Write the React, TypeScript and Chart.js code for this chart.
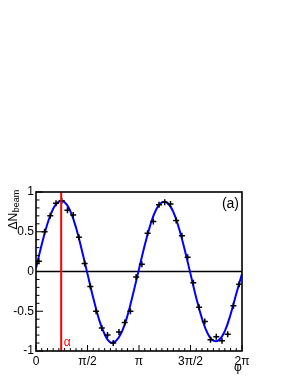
import React, { useEffect, useRef } from "react";
import { Chart, registerables } from "chart.js";

Chart.register(...registerables);

// Measured points (bin centres in degrees) and their values
const binCentersDeg = [
  5, 15, 25, 35, 45, 55, 65, 75, 85, 95, 105, 115, 125, 135, 145, 155, 165, 175,
  185, 195, 205, 215, 225, 235, 245, 255, 265, 275, 285, 295, 305, 315, 325, 335, 345, 355,
];
const measured = [
  0.13, 0.5, 0.7, 0.86, 0.89, 0.77, 0.71, 0.43, 0.1, -0.19, -0.5, -0.71, -0.8, -0.9, -0.76, -0.64, -0.5, -0.07,
  0.09, 0.48, 0.63, 0.84, 0.87, 0.85, 0.64, 0.45, 0.18, -0.14, -0.45, -0.63, -0.86, -0.82, -0.87, -0.79, -0.43, -0.16,
];

// Fit curve (degrees / values)
const curveDeg = [
  0, 10, 20, 30, 40, 50, 60, 70, 80, 90, 100, 110, 120, 130, 140, 150, 160, 170, 180,
  190, 200, 210, 220, 230, 240, 250, 260, 270, 280, 290, 300, 310, 320, 330, 340, 350, 360,
];
const curveVal = [
  0.04, 0.34, 0.6, 0.79, 0.88, 0.87, 0.76, 0.55, 0.27, -0.03, -0.33, -0.6, -0.79, -0.89, -0.87, -0.76, -0.55, -0.27, 0.03,
  0.33, 0.59, 0.78, 0.87, 0.86, 0.75, 0.54, 0.27, -0.03, -0.33, -0.59, -0.78, -0.87, -0.86, -0.75, -0.54, -0.28, -0.03,
];

const alphaDeg = 44;
const yTickValues = [-1, -0.5, 0, 0.5, 1];
const yTickLabels = ["-1", "-0.5", "0", "0.5", "1"];
const xTickValues = [0, Math.PI / 2, Math.PI, (3 * Math.PI) / 2, 2 * Math.PI];
const xTickLabels = ["0", "π/2", "π", "3π/2", "2π"];

const FONT = "'Liberation Sans', Arial, Helvetica, sans-serif";
const rad = (d: number) => (d * Math.PI) / 180;

const decorPlugin = {
  id: "decor",
  beforeDatasetsDraw(chart: any) {
    const { ctx, chartArea: a, scales } = chart;
    const y0 = scales.y.getPixelForValue(0);
    ctx.save();
    ctx.strokeStyle = "#000";
    ctx.lineWidth = 1.5;
    ctx.beginPath();
    ctx.moveTo(a.left, y0);
    ctx.lineTo(a.right, y0);
    ctx.stroke();
    ctx.restore();
  },
  afterDatasetsDraw(chart: any) {
    const { ctx, chartArea: a, scales } = chart;
    const xs = scales.x;
    const ys = scales.y;
    ctx.save();
    // alpha line
    const xa = xs.getPixelForValue(rad(alphaDeg));
    ctx.strokeStyle = "#ff0000";
    ctx.lineWidth = 2;
    ctx.beginPath();
    ctx.moveTo(xa, a.bottom);
    ctx.lineTo(xa, a.top);
    ctx.stroke();
    ctx.fillStyle = "#ff0000";
    ctx.font = `12px ${FONT}`;
    ctx.textAlign = "left";
    ctx.textBaseline = "alphabetic";
    ctx.fillText("α", xa + 2.5, a.bottom - 5);

    // frame
    ctx.strokeStyle = "#000";
    ctx.lineWidth = 1.6;
    ctx.strokeRect(a.left, a.top, a.right - a.left, a.bottom - a.top);

    // y ticks (inside)
    ctx.lineWidth = 1;
    ctx.beginPath();
    for (let i = -10; i <= 10; i++) {
      const v = i / 10;
      const py = ys.getPixelForValue(v);
      const len = i % 5 === 0 ? 7 : 3.5;
      ctx.moveTo(a.left, py);
      ctx.lineTo(a.left + len, py);
    }
    // x ticks (inside)
    for (let d = 0; d <= 360; d += 10) {
      const px = xs.getPixelForValue(rad(d));
      const len = d % 90 === 0 ? 6 : 3;
      ctx.moveTo(px, a.bottom);
      ctx.lineTo(px, a.bottom - len);
    }
    ctx.stroke();

    // (a)
    ctx.fillStyle = "#000";
    ctx.font = `14px ${FONT}`;
    ctx.textAlign = "right";
    ctx.textBaseline = "middle";
    ctx.fillText("(a)", a.right - 3, a.top + 12);

    // phi axis title
    ctx.font = `12px ${FONT}`;
    ctx.textAlign = "center";
    ctx.textBaseline = "alphabetic";
    ctx.fillText("φ", a.right - 4, a.bottom + 20);

    // y axis title
    ctx.translate(16.7, 229.5);
    ctx.rotate(-Math.PI / 2);
    ctx.textAlign = "left";
    ctx.font = `12px ${FONT}`;
    ctx.fillText("ΔN", 0, 0);
    const w = ctx.measureText("ΔN").width;
    ctx.font = `9px ${FONT}`;
    ctx.fillText("beam", w + 0.5, 2);
    ctx.restore();
  },
};

export default function App() {
  const ref = useRef<HTMLCanvasElement | null>(null);
  useEffect(() => {
    if (!ref.current) return;
    Chart.defaults.color = "#000";
    const chart = new Chart(ref.current, {
      type: "scatter",
      data: {
        datasets: [
          {
            label: "data",
            data: binCentersDeg.map((d, i) => ({ x: rad(d), y: measured[i] })),
            pointStyle: "cross",
            pointRadius: 3,
            pointBorderWidth: 1.5,
            borderColor: "#000",
            backgroundColor: "#000",
            showLine: false,
            order: 0,
          },
          {
            label: "fit",
            data: curveDeg.map((d, i) => ({ x: rad(d), y: curveVal[i] })),
            showLine: true,
            borderColor: "#0000ff",
            borderWidth: 2,
            pointRadius: 0,
            tension: 0.4,
            order: 1,
          },
        ],
      },
      plugins: [decorPlugin],
      options: {
        animation: false,
        responsive: false,
        layout: { padding: { left: 0, right: 49, top: 192, bottom: 0 } },
        plugins: { legend: { display: false }, tooltip: { enabled: false } },
        scales: {
          x: {
            type: "linear",
            min: 0,
            max: 2 * Math.PI,
            grid: { display: false, drawTicks: false },
            border: { display: false },
            afterBuildTicks: (s: any) => {
              s.ticks = xTickValues.map((v) => ({ value: v }));
            },
            afterFit: (s: any) => {
              s.height = 25;
            },
            ticks: {
              autoSkip: false,
              maxRotation: 0,
              padding: 3,
              font: { family: FONT, size: 12 },
              color: "#000",
              callback: (_v: any, i: number) => xTickLabels[i],
            },
          },
          y: {
            type: "linear",
            min: -1,
            max: 1,
            grid: { display: false, drawTicks: false },
            border: { display: false },
            afterBuildTicks: (s: any) => {
              s.ticks = yTickValues.map((v) => ({ value: v }));
            },
            afterFit: (s: any) => {
              s.width = 36;
            },
            ticks: {
              padding: 2,
              font: { family: FONT, size: 12 },
              color: "#000",
              callback: (_v: any, i: number) => yTickLabels[i],
            },
          },
        },
      },
    });
    return () => chart.destroy();
  }, []);
  return (
    <div style={{ position: "absolute", left: 0, top: 0, width: 291, height: 376 }}>
      <canvas ref={ref} width={291} height={376} style={{ width: 291, height: 376 }} />
    </div>
  );
}
